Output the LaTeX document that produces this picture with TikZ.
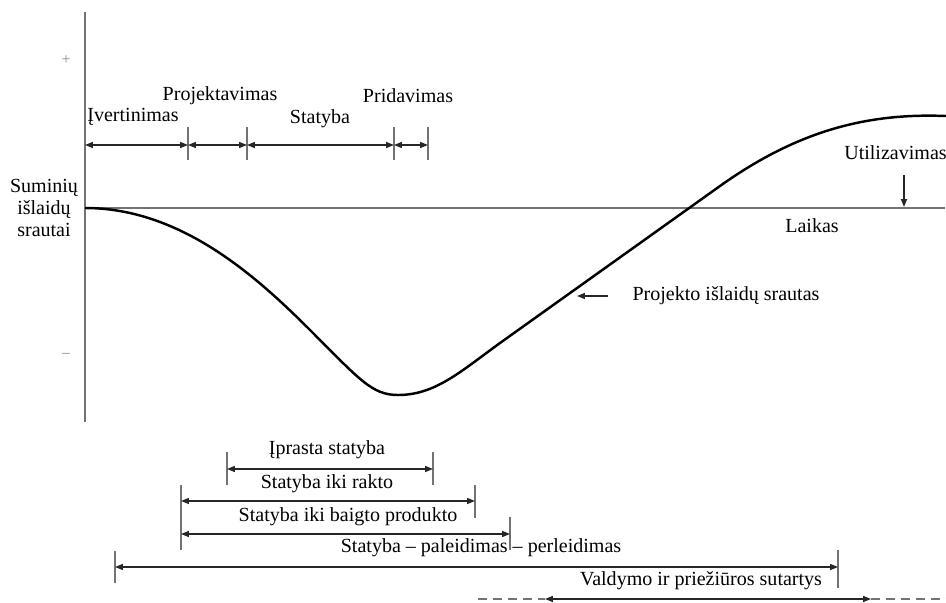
\documentclass[tikz,border=0pt]{standalone}
\usepackage{fontspec}
\setmainfont{Liberation Serif}
\usetikzlibrary{arrows.meta}
\begin{document}
\begin{tikzpicture}[x=0.02cm,y=-0.02cm,
  lbl/.style={inner sep=0pt, font=\fontsize{11.4}{12.5}\selectfont},
  sign/.style={inner sep=0pt, text=black!45, font=\fontsize{9}{10}\selectfont},
  axisline/.style={draw=black!55, line width=1.1pt},
  tick/.style={draw=black!55, line width=1pt},
  span/.style={draw=black!85, line width=0.8pt,
    {Triangle[length=4.5pt,width=3.4pt]}-{Triangle[length=4.5pt,width=3.4pt]}},
  pointer/.style={draw=black!85, line width=0.8pt, -{Triangle[length=4.5pt,width=3.4pt]}},
  flow/.style={draw=black, line width=1.4pt},
  dashline/.style={draw=black!55, line width=0.9pt, dash pattern=on 5pt off 3.5pt}]
\useasboundingbox (0,0) rectangle (946,602);

% axes
\coordinate (O) at (85,208);
\coordinate (ytop) at (85,12);
\coordinate (ybot) at (85,422);
\coordinate (xend) at (945,208);
\draw[axisline] (ytop) -- (ybot);
\draw[axisline] (O) -- (xend);
\node[sign] (plus) at (66,60) {+};
\node[sign] (minus) at (66,355) {–};
\node[lbl, align=center] (ylabel) at (44,208) {Suminių\\išlaidų\\srautai};
\node[lbl] (time) at (812,226) {Laikas};

% cumulative cost curve
\draw[flow] (O) .. controls (180,208) and (255,275) .. (310,330)
  .. controls (360,380) and (372,395) .. (398,395)
  .. controls (435,395) and (460,372) .. (500,343)
  -- (720,186)
  .. controls (800,129) and (870,113) .. (946,116);

% curve label
\node[lbl] (flowlbl) at (726,296) {Projekto išlaidų srautas};
\coordinate (fa) at (608,296);
\coordinate (fb) at (577,296);
\draw[pointer] (fa) -- (fb);

% disposal marker
\node[lbl, anchor=east] (util) at (947,153) {Utilizavimas};
\coordinate (ua) at (904,175);
\coordinate (ub) at (904,207);
\draw[pointer] (ua) -- (ub);

% project phases
\coordinate (p0) at (85,145);
\coordinate (p1) at (188,145);
\coordinate (p2) at (247,145);
\coordinate (p3) at (394,145);
\coordinate (p4) at (428,145);
\foreach \p in {p1,p2,p3,p4}
  \draw[tick] (\p) ++(0,-18) -- ++(0,33);
\draw[span] (p0) -- (p1);
\draw[span] (p1) -- (p2);
\draw[span] (p2) -- (p3);
\draw[span] (p3) -- (p4);
\node[lbl] (ph1) at (133,117) {Įvertinimas};
\node[lbl] (ph2) at (220,96) {Projektavimas};
\node[lbl] (ph3) at (320,119) {Statyba};
\node[lbl] (ph4) at (408,96) {Pridavimas};

% contract types
\coordinate (a1) at (227,469); \coordinate (a2) at (433,469);
\coordinate (b1) at (181,501); \coordinate (b2) at (475,501);
\coordinate (c1) at (181,534); \coordinate (c2) at (510,534);
\coordinate (d1) at (115,567); \coordinate (d2) at (838,567);
\coordinate (e0) at (478,599); \coordinate (e1) at (545,599);
\coordinate (e2) at (871,599); \coordinate (e3) at (946,599);

\draw[tick] (a1) ++(0,-17) -- ++(0,33);
\draw[tick] (a2) ++(0,-17) -- ++(0,33);
\draw[tick] (b1) ++(0,-16) -- ++(0,65);
\draw[tick] (b2) ++(0,-16) -- ++(0,33);
\draw[tick] (c2) ++(0,-17) -- ++(0,33);
\draw[tick] (d1) ++(0,-16) -- ++(0,32);
\draw[tick] (d2) ++(0,-17) -- ++(0,38);

\draw[span] (a1) -- (a2);
\draw[span] (b1) -- (b2);
\draw[span] (c1) -- (c2);
\draw[span] (d1) -- (d2);
\draw[span] (e1) -- (e2);
\draw[dashline] (e0) -- (e1);
\draw[dashline] (e2) -- (e3);

\node[lbl] (k1) at (327,450) {Įprasta statyba};
\node[lbl] (k2) at (327,484) {Statyba iki rakto};
\node[lbl] (k3) at (348,517) {Statyba iki baigto produkto};
\node[lbl] (k4) at (481,548) {Statyba – paleidimas – perleidimas};
\node[lbl] (k5) at (701,581) {Valdymo ir priežiūros sutartys};
\end{tikzpicture}
\end{document}
